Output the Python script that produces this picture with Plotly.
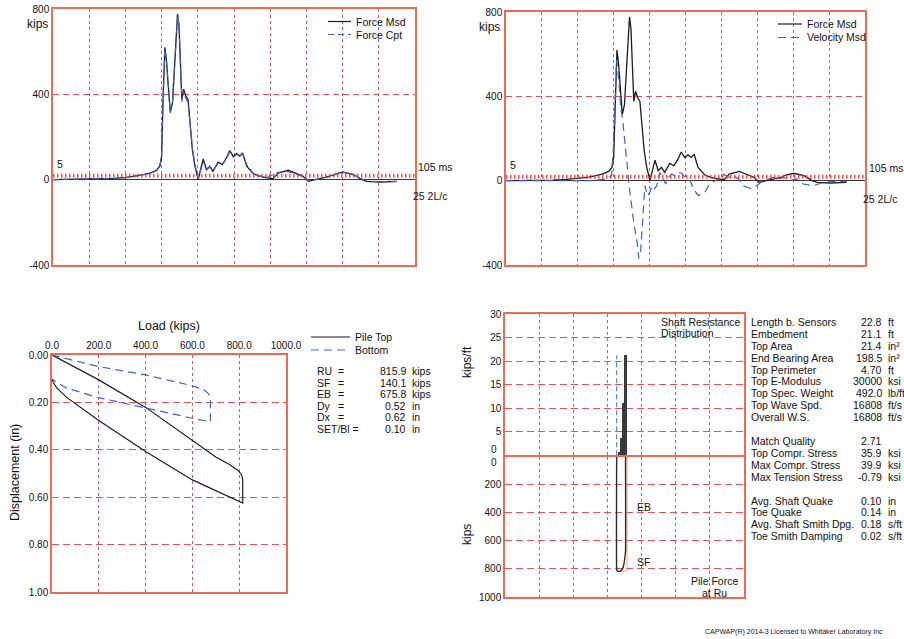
import plotly.graph_objects as go

W, H = 904, 639
FONT = "Arial, 'Liberation Sans', sans-serif"

# ---------------- data ----------------
# Top plots: time (ms) and force (kips)
t_ms = [5.0, 12.0, 18.0, 22.0, 25.3, 28.0, 30.0, 32.0, 33.6, 34.5,
        35.0, 35.4, 35.9, 36.3, 36.8, 37.4, 38.0, 38.6, 39.4, 39.8,
        40.2, 40.6, 41.1, 41.7, 42.3, 42.8, 43.5, 44.2, 45.1, 46.0,
        46.5, 47.4, 48.3, 49.2, 50.6, 51.8, 52.9, 53.8, 54.8, 55.7,
        56.6, 57.4, 58.5, 60.3, 62.1, 64.0, 65.8, 67.2, 70.0, 72.3,
        74.1, 75.5, 77.8, 79.7, 81.5, 83.3, 85.2, 88.0, 90.3, 91.6,
        95.3, 99.9]
force_msd = [0, 1, 3, 6, 11, 17, 24, 32, 44, 63,
             110, 376, 620, 565, 440, 314, 360, 565, 776, 722,
             533, 376, 424, 392, 376, 267, 141, 63, 0, 63,
             97, 47, 63, 39, 82, 71, 102, 136, 110, 122,
             110, 125, 63, 28, 16, 8, 5, 31, 44, 28,
             16, -8, 0, 8, 16, 28, 35, 24, 0, -8,
             -11, -8]
force_cpt = [0, 1, 3, 6, 10, 16, 23, 31, 42, 60,
             105, 370, 612, 570, 445, 318, 356, 560, 770, 728,
             540, 365, 415, 380, 360, 270, 150, 70, 5, 55,
             85, 50, 58, 42, 76, 74, 98, 130, 105, 118,
             112, 120, 70, 30, 18, 10, 22, 34, 38, 26,
             14, -6, 2, 6, 14, 26, 34, 22, 2, -6,
             -10, -9]
vel_t = [5.0, 20.0, 29.3, 33.0, 34.4, 34.9, 35.4, 35.8, 36.5, 37.0,
         37.5, 38.0, 38.6, 39.3, 40.0, 40.7, 41.5, 42.0, 42.5, 43.1,
         43.7, 44.4, 45.1, 45.6, 46.3, 47.0, 47.9, 48.8, 49.5, 50.2,
         51.1, 52.1, 53.0, 53.9, 54.9, 56.3, 57.2, 58.6, 60.4, 61.4,
         62.8, 64.1, 65.5, 66.9, 68.3, 69.7, 71.1, 73.0, 74.8, 76.2,
         78.1, 79.5, 80.9, 82.3, 84.1, 86.0, 87.8, 90.6, 93.4, 96.2,
         99.9]
velocity_msd = [0, 0, 0, 8, 24, 149, 384, 573, 463, 337,
                290, 196, 71, -24, -118, -212, -290, -369, -337, -165,
                -24, -71, -55, -24, -39, -24, 39, 8, -16, 16,
                31, 24, 39, 35, 16, 0, -39, -71, -55, -24,
                -5, 8, 31, 16, 24, 8, -24, -36, -24, -5,
                8, 16, 8, 16, 0, 8, -16, -24, -8, -5,
                -5]
time_grid = [15, 25, 35, 45, 55, 65, 75, 85, 95]
force_ticks = [-400, 0, 400, 800]
# 2L/c marker strip (time span and level in kips)
strip_t = [5, 105]
strip_level = [18, 18]

# Bottom-left: load (kips) vs displacement (in)
top_load = [0, 200, 400, 600, 700, 760, 795, 810, 815, 815,
            600, 400, 200, 64, 21, 5, 0]
top_disp = [0, 0.105, 0.221, 0.358, 0.430, 0.463, 0.487, 0.505, 0.525, 0.625,
            0.527, 0.407, 0.276, 0.180, 0.140, 0.115, 0.103]
bot_load = [0, 200, 400, 600, 650, 670, 677, 677,
            600, 400, 200, 64, 14, 0]
bot_disp = [0, 0.049, 0.084, 0.130, 0.147, 0.165, 0.182, 0.282,
            0.267, 0.225, 0.180, 0.140, 0.112, 0.100]
load_ticks = [0, 200, 400, 600, 800, 1000]
disp_ticks = [0.0, 0.2, 0.4, 0.6, 0.8, 1.0]

# Bottom-right: shaft resistance distribution and pile force at Ru
seg_left = [3.30, 3.37, 3.44, 3.49]
seg_width = [0.07, 0.07, 0.05, 0.07]
shaft_res = [0.6, 3.6, 11.2, 21.2]
pile_top_x = [3.27, 3.27]
pile_top_res = [0, 21.2]
pile_x = [3.27, 3.27, 3.28, 3.30, 3.36, 3.40, 3.44, 3.48, 3.51, 3.53, 3.53]
pile_force = [0, 800, 812, 816, 816, 812, 800, 770, 720, 676, 0]
ru_x = [3.36, 3.575, 3.575]
ru_force = [816, 816, 0]
eb_x = [3.53, 3.575]
eb_force = [676, 676]
res_ticks = [5, 10, 15, 20, 25, 30]
kips_ticks = [200, 400, 600, 800, 1000]
depth_grid = [1, 2, 3, 4, 5, 6]

# Result texts
res_labels = ["RU", "SF", "EB", "Dy", "Dx"]
res_values = ["815.9", "140.1", "675.8", "0.52", "0.62", "0.10"]
res_units = ["kips", "kips", "kips", "in", "in", "in"]

info_labels = ["Length b. Sensors", "Embedment", "Top Area", "End Bearing Area",
               "Top Perimeter", "Top E-Modulus", "Top Spec. Weight", "Top Wave Spd.",
               "Overall W.S.", "Match Quality", "Top Compr. Stress", "Max Compr. Stress",
               "Max Tension Stress", "Avg. Shaft Quake", "Toe Quake",
               "Avg. Shaft Smith Dpg.", "Toe Smith Damping"]
info_values = ["22.8", "21.1", "21.4", "198.5", "4.70", "30000", "492.0", "16808",
               "16808", "2.71", "35.9", "39.9", "-0.79", "0.10", "0.14", "0.18", "0.02"]
info_units = ["ft", "ft", "in²", "in²", "ft", "ksi", "lb/ft", "ft/s", "ft/s", "",
              "ksi", "ksi", "ksi", "in", "in", "s/ft", "s/ft"]
info_rows = [322, 334, 346, 357.5, 369.5, 381, 393, 405, 417,
             441, 453, 465, 476.5, 500.5, 512, 523.5, 535.5]


# ---------------- helpers ----------------
def X(px):
    return px / W


def Y(py):
    return 1 - py / H


RED = "#e8505a"
FRAME = "#ee6a55"
BLACK = "#1c1c1c"
BLUE = "#3c62c8"
HATCH = "#ff3030"

fig = go.Figure()

# Top-left
fig.add_trace(go.Scatter(x=t_ms, y=force_msd, mode="lines", name="Force Msd",
                         line=dict(color=BLACK, width=1.3), xaxis="x", yaxis="y"))
fig.add_trace(go.Scatter(x=t_ms, y=force_cpt, mode="lines", name="Force Cpt",
                         line=dict(color=BLUE, width=1.2, dash="6px,4px"), xaxis="x", yaxis="y"))
# Top-right
fig.add_trace(go.Scatter(x=t_ms, y=force_msd, mode="lines", name="Force Msd",
                         line=dict(color=BLACK, width=1.3), xaxis="x2", yaxis="y2"))
fig.add_trace(go.Scatter(x=vel_t, y=velocity_msd, mode="lines", name="Velocity Msd",
                         line=dict(color=BLUE, width=1.2, dash="8px,5px"), xaxis="x2", yaxis="y2"))
# 2L/c strips
for xa, ya in (("x", "y"), ("x2", "y2")):
    fig.add_trace(go.Scatter(x=strip_t, y=strip_level, mode="lines", hoverinfo="skip",
                             line=dict(color=HATCH, width=4, dash="1.5px,2.5px"),
                             opacity=0.85, xaxis=xa, yaxis=ya, name="2L/c"))
# Bottom-left
fig.add_trace(go.Scatter(x=top_load, y=top_disp, mode="lines", name="Pile Top",
                         line=dict(color=BLACK, width=1.2), xaxis="x3", yaxis="y3"))
fig.add_trace(go.Scatter(x=bot_load, y=bot_disp, mode="lines", name="Bottom",
                         line=dict(color=BLUE, width=1.2, dash="8px,5px"), xaxis="x3", yaxis="y3"))
# Bottom-right upper
fig.add_trace(go.Bar(x=[l + w / 2 for l, w in zip(seg_left, seg_width)], y=shaft_res,
                     width=seg_width, marker=dict(color="#3a3a3a", line=dict(width=0)),
                     xaxis="x4", yaxis="y4", name="Shaft Resistance"))
fig.add_trace(go.Scatter(x=pile_top_x, y=pile_top_res, mode="lines",
                         line=dict(color="#5a86d8", width=1.2, dash="5px,3px"),
                         xaxis="x4", yaxis="y4"))
# Bottom-right lower
fig.add_trace(go.Scatter(x=ru_x, y=ru_force, mode="lines",
                         line=dict(color="#f0b070", width=1), xaxis="x5", yaxis="y5"))
fig.add_trace(go.Scatter(x=eb_x, y=eb_force, mode="lines",
                         line=dict(color="#f0b070", width=1), xaxis="x5", yaxis="y5"))
fig.add_trace(go.Scatter(x=pile_x, y=pile_force, mode="lines", line_shape="spline",
                         line=dict(color="#2a2a2a", width=1.4, smoothing=0.4),
                         xaxis="x5", yaxis="y5"))

common = dict(showline=True, mirror=True, linecolor=FRAME, linewidth=1.5,
              ticks="", gridcolor=RED, gridwidth=1, automargin=False,
              tickfont=dict(size=10, color="#111"))

layout = dict(
    template="none",
    width=W, height=H, margin=dict(l=0, r=0, t=0, b=0, pad=0),
    paper_bgcolor="white", plot_bgcolor="white", showlegend=False,
    font=dict(family=FONT, color="#111"), bargap=0,
    xaxis=dict(domain=[X(53), X(415)], range=[5, 105], anchor="y", tickvals=time_grid,
               showticklabels=False, showgrid=True, griddash="3px,3px", zeroline=False, **common),
    yaxis=dict(domain=[Y(265), Y(9)], range=[-400, 800], anchor="x", tickvals=force_ticks,
               ticktext=[str(v) for v in force_ticks], showgrid=True, griddash="6px,4px",
               zeroline=True, zerolinecolor="#2e3a30", zerolinewidth=1, **common),
    xaxis2=dict(domain=[X(506), X(865)], range=[5, 105], anchor="y2", tickvals=time_grid,
                showticklabels=False, showgrid=True, griddash="3px,3px", zeroline=False, **common),
    yaxis2=dict(domain=[Y(265), Y(12)], range=[-400, 800], anchor="x2", tickvals=force_ticks,
                ticktext=[str(v) for v in force_ticks], showgrid=True, griddash="6px,4px",
                zeroline=True, zerolinecolor="#2e3a30", zerolinewidth=1, **common),
    xaxis3=dict(domain=[X(52), X(286)], range=[0, 1000], anchor="y3", side="top",
                tickvals=load_ticks, ticktext=[f"{v:.1f}" for v in load_ticks],
                showgrid=True, griddash="3px,3px", zeroline=False, **common),
    yaxis3=dict(domain=[Y(592), Y(355)], range=[1, 0], anchor="x3", tickvals=disp_ticks,
                ticktext=[f"{v:.2f}" for v in disp_ticks], showgrid=True,
                griddash="7px,4px", zeroline=False, **common),
    xaxis4=dict(domain=[X(505), X(744)], range=[0, 7], anchor="y4", tickvals=depth_grid,
                showticklabels=False, showgrid=True, griddash="3px,3px", zeroline=False, **common),
    yaxis4=dict(domain=[Y(455.25), Y(314)], range=[0, 30], anchor="x4", tickvals=res_ticks,
                ticktext=[str(v) for v in res_ticks], showgrid=True, griddash="7px,4px",
                zeroline=False, **common),
    xaxis5=dict(domain=[X(505), X(744)], range=[0, 7], anchor="y5", tickvals=depth_grid,
                showticklabels=False, showgrid=True, griddash="3px,3px", zeroline=False, **common),
    yaxis5=dict(domain=[Y(597), Y(456.75)], range=[1000, 0], anchor="x5", tickvals=kips_ticks,
                ticktext=[str(v) for v in kips_ticks], showgrid=True, griddash="7px,4px",
                zeroline=False, **common),
)
fig.update_layout(**layout)

ann = []


def text(px, py, s, size=10.5, xanchor="left", yanchor="middle", angle=0):
    ann.append(dict(x=X(px), y=Y(py), xref="paper", yref="paper", text=s, showarrow=False,
                    xanchor=xanchor, yanchor=yanchor, textangle=angle,
                    font=dict(size=size, family=FONT, color="#111")))


def legend_line(x0, x1, py, color, dash=None):
    fig.add_shape(type="line", xref="paper", yref="paper", x0=X(x0), x1=X(x1), y0=Y(py),
                  y1=Y(py), line=dict(color=color, width=1.2, dash=dash))


# top-left decorations
text(50, 24, "kips", size=12, xanchor="right")
text(55, 164, "5", size=10.5)
text(416, 167, "105 ms", size=10.5)
text(411, 196, "25 2L/c", size=10.5)
legend_line(328, 351, 21.5, BLACK)
legend_line(328, 351, 34.5, BLUE, "6px,4px")
text(354, 21.5, "Force Msd")
text(354, 34.5, "Force Cpt")

# top-right decorations
text(502, 27, "kips", size=12, xanchor="right")
text(508, 165, "5", size=10.5)
text(867, 168, "105 ms", size=10.5)
text(861, 199, "25 2L/c", size=10.5)
legend_line(778, 802, 24, BLACK)
legend_line(778, 802, 37.5, BLUE, "8px,5px")
text(805, 24, "Force Msd")
text(805, 37.5, "Velocity Msd")

# bottom-left decorations
text(169, 326, "Load (kips)", size=12.5, xanchor="center")
text(15, 473, "Displacement (in)", size=12.5, xanchor="center", angle=-90)
legend_line(311, 350, 337, BLACK)
legend_line(311, 350, 350, BLUE, "8px,5px")
text(353, 337, "Pile Top")
text(353, 350, "Bottom")
res_rows = [371, 382.5, 394, 405.5, 417, 428.5]
for i, lab in enumerate(res_labels):
    text(315, res_rows[i], lab)
    text(336, res_rows[i], "=")
text(315, res_rows[5], "SET/Bl =")
for i in range(6):
    text(408, res_rows[i], res_values[i], xanchor="right")
    text(410, res_rows[i], res_units[i])

# bottom-right decorations
text(499, 450, "0", size=10, xanchor="right")
text(499, 462, "0", size=10, xanchor="right")
text(467, 362, "kips/ft", size=12, xanchor="center", angle=-90)
text(467, 535, "kips", size=12, xanchor="center", angle=-90)
text(659, 321.5, "Shaft Resistance")
text(659, 333, "Distribution")
text(635, 507, "EB")
text(635, 562, "SF")
text(714, 580.5, "Pile Force", xanchor="center")
text(714, 592.5, "at Ru", xanchor="center")

# information block
for lab, val, unit, row in zip(info_labels, info_values, info_units, info_rows):
    text(749, row, lab)
    text(884, row, val, xanchor="right")
    if unit:
        text(886, row, unit)

text(703, 632, "CAPWAP(R) 2014-3 Licensed to Whitaker Laboratory Inc", size=7)

fig.update_layout(annotations=ann)
fig.write_html("out.html", config={"displayModeBar": False},
               post_script="document.body.style.margin='0px';document.body.style.padding='0px';")
